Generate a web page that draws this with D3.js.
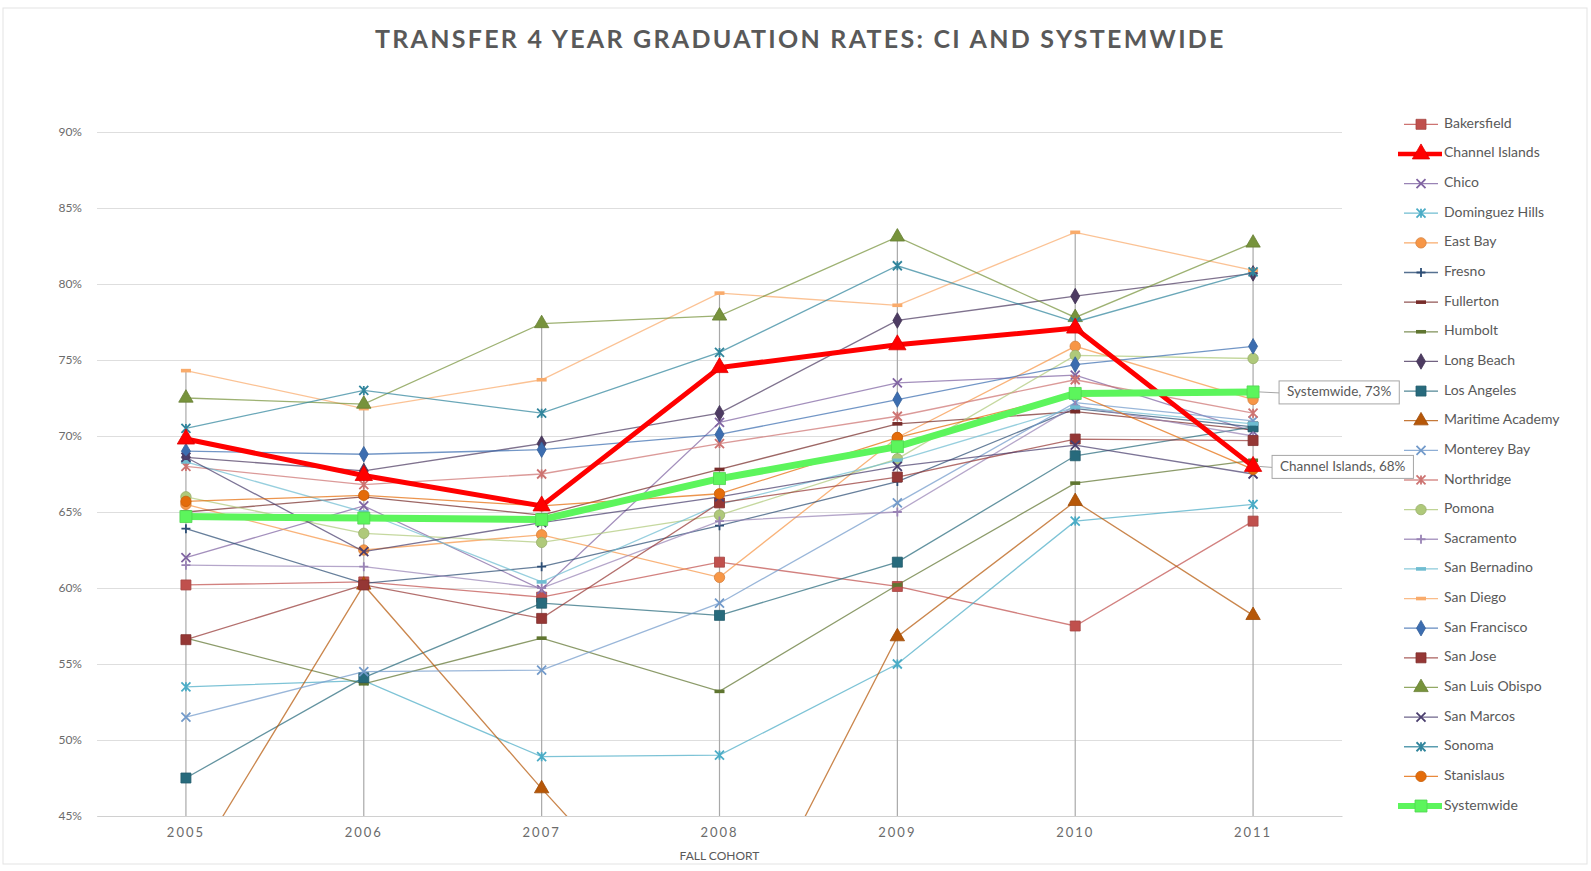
<!DOCTYPE html>
<html>
<head>
<meta charset="utf-8">
<script src="https://cdn.jsdelivr.net/npm/d3@7"></script>
<style>
  body { margin: 0; background: #fff; }
  svg text { font-family: Lato, "Open Sans", sans-serif; fill: #595959; }
</style>
</head>
<body>
<svg id="chart" width="1591" height="871"></svg>
<script>
// ---- data (percent) ----
const years = ['2005', '2006', '2007', '2008', '2009', '2010', '2011'];
const yTicks = [45, 50, 55, 60, 65, 70, 75, 80, 85, 90];

const bakersfield     = [60.2, 60.4, 59.4, 61.7, 60.1, 57.5, 64.4];
const channelIslands  = [69.8, 67.4, 65.4, 74.5, 76.0, 77.1, 68.0];
const chico           = [62.0, 65.4, 59.9, 70.9, 73.5, 74.0, 70.3];
const dominguezHills  = [53.5, 53.9, 48.9, 49.0, 55.0, 64.4, 65.5];
const eastBay         = [65.5, 62.5, 63.5, 60.7, 69.9, 75.9, 72.4];
const fresno          = [63.9, 60.3, 61.4, 64.1, 67.0, 71.8, 70.6];
const fullerton       = [65.0, 66.0, 64.8, 67.8, 70.8, 71.6, 70.4];
const humbolt         = [56.7, 53.7, 56.7, 53.2, 60.2, 66.9, 68.4];
const longBeach       = [68.6, 67.7, 69.5, 71.5, 77.6, 79.2, 80.7];
const losAngeles      = [47.5, 54.1, 59.0, 58.2, 61.7, 68.7, 70.6];
const maritimeAcademy = [41.0, 60.2, 46.8, 34.0, 56.8, 65.7, 58.2];
const montereyBay     = [51.5, 54.5, 54.6, 59.0, 65.6, 72.2, 71.0];
const northridge      = [68.0, 66.8, 67.5, 69.5, 71.3, 73.7, 71.5];
const pomona          = [66.0, 63.6, 63.0, 64.8, 68.5, 75.3, 75.1];
const sacramento      = [61.5, 61.4, 60.0, 64.4, 65.0, 72.0, 70.0];
const sanBernardino   = [68.3, 65.0, 60.4, 65.5, 68.4, 71.9, 70.8];
const sanDiego        = [74.3, 71.8, 73.7, 79.4, 78.6, 83.4, 80.9];
const sanFrancisco    = [69.0, 68.8, 69.1, 70.1, 72.4, 74.7, 75.9];
const sanJose         = [56.6, 60.2, 58.0, 65.6, 67.3, 69.8, 69.7];
const sanLuisObispo   = [72.5, 72.1, 77.4, 77.9, 83.1, 77.8, 82.7];
const sanMarcos       = [68.6, 62.4, 64.3, 66.0, 68.0, 69.4, 67.5];
const sonoma          = [70.5, 73.0, 71.5, 75.5, 81.2, 77.5, 80.8];
const stanislaus      = [65.7, 66.1, 65.4, 66.2, 69.9, 72.8, 67.8];
const systemwide      = [64.7, 64.6, 64.5, 67.2, 69.3, 72.8, 72.9];

const seriesNames = ['Bakersfield', 'Channel Islands', 'Chico', 'Dominguez Hills', 'East Bay', 'Fresno',
  'Fullerton', 'Humbolt', 'Long Beach', 'Los Angeles', 'Maritime Academy', 'Monterey Bay', 'Northridge',
  'Pomona', 'Sacramento', 'San Bernadino', 'San Diego', 'San Francisco', 'San Jose', 'San Luis Obispo',
  'San Marcos', 'Sonoma', 'Stanislaus', 'Systemwide'];
const seriesValues = [bakersfield, channelIslands, chico, dominguezHills, eastBay, fresno, fullerton,
  humbolt, longBeach, losAngeles, maritimeAcademy, montereyBay, northridge, pomona, sacramento,
  sanBernardino, sanDiego, sanFrancisco, sanJose, sanLuisObispo, sanMarcos, sonoma, stanislaus, systemwide];

// labels shown at the last point
const pointLabels = [
  { series: 'Systemwide', year: '2011', dx: 26 },
  { series: 'Channel Islands', year: '2011', dx: 19 }
];

// ---- styles ----
const colors = ['#c0504d', '#ff0000', '#8064a2', '#4bacc6', '#f79646', '#2c4d75', '#772c2a', '#5f7530',
  '#4d3b62', '#276a7c', '#b65708', '#729aca', '#cd7371', '#afc97a', '#9983b5', '#6fbdd1', '#f9ab6b',
  '#3c6db0', '#953735', '#77933c', '#4a3e6e', '#31859c', '#e46c0a', '#5cf55c'];
const markers = ['square', 'triangle', 'x', 'star', 'circle', 'plus', 'dash', 'dash', 'diamond', 'square',
  'triangle', 'x', 'star', 'circle', 'plus', 'dash', 'dash', 'diamond', 'square', 'triangle', 'x', 'star',
  'circle', 'square'];

const series = seriesNames.map((name, i) => ({
  name: name,
  values: seriesValues[i],
  color: colors[i],
  marker: markers[i],
  heavy: name === 'Channel Islands' || name === 'Systemwide'
}));

// ---- layout ----
const plot = { left: 97, right: 1342, top: 132, bottom: 816 };

const svg = d3.select('#chart');

// outer frame
svg.append('rect')
  .attr('x', 3).attr('y', 8).attr('width', 1584).attr('height', 856)
  .style('fill', 'none').style('stroke', '#e3e3e3');

const x = d3.scaleBand().domain(years).range([plot.left, plot.right]);
const cx = d => x(d) + x.bandwidth() / 2;
const y = d3.scaleLinear().domain([45, 90]).range([plot.bottom, plot.top]);

// title
svg.append('text')
  .attr('x', 800).attr('y', 48)
  .attr('text-anchor', 'middle')
  .attr('textLength', 850).attr('lengthAdjust', 'spacing')
  .style('font-size', '25px').style('font-weight', 'bold')
  .style('letter-spacing', '1.5px')
  .text('TRANSFER  4 YEAR GRADUATION  RATES:  CI  AND  SYSTEMWIDE');

// horizontal gridlines + y labels
const yAxis = svg.append('g')
  .attr('transform', 'translate(' + plot.left + ',0)')
  .call(d3.axisLeft(y).tickValues(yTicks).tickFormat(d => d + '%')
    .tickSize(-(plot.right - plot.left)).tickPadding(15));
yAxis.select('.domain').remove();
yAxis.selectAll('line').style('stroke', '#dedede');
yAxis.selectAll('text').style('font-size', '12px').style('fill', '#6b6b6b');

// x labels
const xAxis = svg.append('g')
  .attr('transform', 'translate(0,' + plot.bottom + ')')
  .call(d3.axisBottom(x).tickSize(0).tickPadding(12));
xAxis.select('.domain').style('stroke', '#d0d0d0');
xAxis.selectAll('text').style('font-size', '13px').style('letter-spacing', '2px').style('fill', '#6b6b6b');

svg.append('text')
  .attr('x', (plot.left + plot.right) / 2).attr('y', 860)
  .attr('text-anchor', 'middle')
  .style('font-size', '12px')
  .text('FALL COHORT');

// drop lines from highest point of each year to the axis
years.forEach((yr, j) => {
  const top = d3.max(series, s => s.values[j]);
  svg.append('line')
    .attr('x1', cx(yr)).attr('x2', cx(yr))
    .attr('y1', y(top)).attr('y2', plot.bottom)
    .style('stroke', '#a9a9a9').style('stroke-width', 1.2);
});

// marker shapes
function drawMarker(g, kind, color, big) {
  const k = big ? 1.2 : 1;
  if (kind === 'square' || kind === 'triangle' || kind === 'circle' || kind === 'diamond') {
    const type = { square: d3.symbolSquare, triangle: d3.symbolTriangle,
      circle: d3.symbolCircle, diamond: d3.symbolDiamond }[kind];
    const size = { square: 100, triangle: 90, circle: 85, diamond: 70 }[kind] * k * k;
    g.append('path')
      .attr('d', d3.symbol().type(type).size(size)())
      .style('fill', color).style('stroke', d3.color(color).darker(0.4)).style('stroke-width', 0.8);
  } else if (kind === 'x' || kind === 'star' || kind === 'plus') {
    const s = 4.5;
    let p = '';
    if (kind === 'x' || kind === 'star') p += `M${-s},${-s}L${s},${s}M${-s},${s}L${s},${-s}`;
    if (kind === 'star') p += `M0,${-s}L0,${s}`;
    if (kind === 'plus') p += `M${-s},0L${s},0M0,${-s}L0,${s}`;
    g.append('path').attr('d', p)
      .style('fill', 'none').style('stroke', color).style('stroke-width', 1.8);
  } else if (kind === 'dash') {
    g.append('rect').attr('x', -5).attr('y', -1.8).attr('width', 10).attr('height', 3.6)
      .style('fill', color);
  }
}

// clip to plot area
svg.append('clipPath').attr('id', 'plotClip')
  .append('rect').attr('x', plot.left).attr('y', plot.top - 20)
  .attr('width', plot.right - plot.left).attr('height', plot.bottom - plot.top + 20);

const line = d3.line().x((d, j) => cx(years[j])).y(d => y(d));

const order = series.filter(s => !s.heavy).concat(
  series.filter(s => s.name === 'Channel Islands'),
  series.filter(s => s.name === 'Systemwide'));

const seriesG = svg.append('g').attr('clip-path', 'url(#plotClip)');
order.forEach(s => {
  const g = seriesG.append('g');
  g.append('path')
    .attr('d', line(s.values))
    .style('fill', 'none')
    .style('stroke', s.color)
    .style('stroke-width', s.name === 'Systemwide' ? 7 : (s.heavy ? 5 : 1.3))
    .style('stroke-opacity', s.heavy ? 1 : 0.72);
  s.values.forEach((v, j) => {
    if (v < 45) return;
    const m = g.append('g').attr('transform', 'translate(' + cx(years[j]) + ',' + y(v) + ')');
    drawMarker(m, s.marker, s.color, s.heavy);
  });
});

// point labels
pointLabels.forEach(lb => {
  const s = series.find(d => d.name === lb.series);
  const j = years.indexOf(lb.year);
  const v = s.values[j];
  const px = cx(lb.year), py = y(v);
  const g = svg.append('g');
  const txt = g.append('text')
    .attr('x', px + lb.dx + 8).attr('y', py + 1)
    .attr('dominant-baseline', 'middle')
    .style('font-size', '13.5px')
    .text(lb.series + ', ' + Math.round(v) + '%');
  const w = txt.node().getComputedTextLength();
  g.insert('rect', 'text')
    .attr('x', px + lb.dx).attr('y', py - 11)
    .attr('width', w + 16).attr('height', 23)
    .style('fill', '#fff').style('stroke', '#a6a6a6');
  g.insert('line', 'rect')
    .attr('x1', px + 6).attr('y1', py).attr('x2', px + lb.dx).attr('y2', py + 1)
    .style('stroke', '#a6a6a6');
});

// legend
const legend = svg.append('g');
series.forEach((s, i) => {
  const ly = 124.3 + i * 29.64;
  const g = legend.append('g').attr('transform', 'translate(0,' + ly + ')');
  g.append('line')
    .attr('x1', s.heavy ? 1398 : 1404).attr('x2', s.heavy ? 1442 : 1438)
    .style('stroke', s.color)
    .style('stroke-width', s.name === 'Systemwide' ? 6 : (s.heavy ? 4.5 : 1.3))
    .style('stroke-opacity', s.heavy ? 1 : 0.8);
  const m = g.append('g').attr('transform', 'translate(1421,0)');
  drawMarker(m, s.marker, s.color, s.heavy);
  g.append('text')
    .attr('x', 1444).attr('y', 0)
    .attr('dominant-baseline', 'middle')
    .style('font-size', '14px')
    .text(s.name);
});
</script>
</body>
</html>
